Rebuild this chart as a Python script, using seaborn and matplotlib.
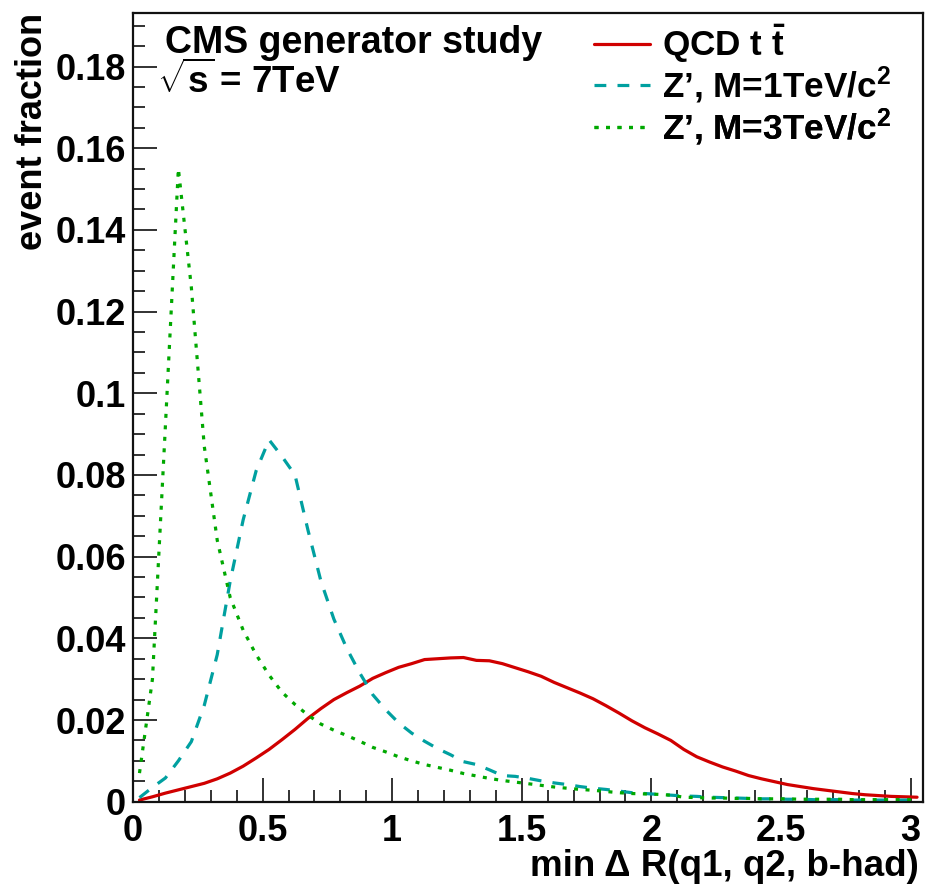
import numpy as np
import pandas as pd
import matplotlib
matplotlib.use("Agg")
import matplotlib.pyplot as plt
import seaborn as sns
from matplotlib.ticker import MultipleLocator

# ---------------- data ----------------
bin_centers = [0.025 + 0.05 * i for i in range(61)]

qcd_tt = [0.0004, 0.0012, 0.0021, 0.0029, 0.0037, 0.0045, 0.0056, 0.0070, 0.0087, 0.0107,
          0.0128, 0.0152, 0.0177, 0.0204, 0.0228, 0.0250, 0.0267, 0.0283, 0.0302, 0.0316,
          0.0329, 0.0338, 0.0348, 0.0350, 0.0352, 0.0353, 0.0346, 0.0345, 0.0338, 0.0328,
          0.0318, 0.0307, 0.0292, 0.0279, 0.0266, 0.0252, 0.0235, 0.0217, 0.0198, 0.0181,
          0.0166, 0.0150, 0.0128, 0.0110, 0.0097, 0.0085, 0.0075, 0.0064, 0.0056, 0.0049,
          0.0042, 0.0037, 0.0032, 0.0028, 0.0024, 0.0020, 0.0017, 0.0015, 0.0013, 0.0012,
          0.0011]

zprime_1tev = [0.0010, 0.0035, 0.0058, 0.0100, 0.0147, 0.0236, 0.0360, 0.0540, 0.0690, 0.0810,
               0.0886, 0.0845, 0.0800, 0.0665, 0.0540, 0.0447, 0.0375, 0.0315, 0.0262, 0.0225,
               0.0193, 0.0168, 0.0148, 0.0130, 0.0115, 0.0098, 0.0091, 0.0078, 0.0064, 0.0062,
               0.0057, 0.0051, 0.0046, 0.0042, 0.0037, 0.0033, 0.0030, 0.0026, 0.0022, 0.0020,
               0.0018, 0.0016, 0.0014, 0.0013, 0.0011, 0.0010, 0.0009, 0.0008, 0.0007, 0.0007,
               0.0006, 0.0006, 0.0005, 0.0005, 0.0005, 0.0004, 0.0004, 0.0004, 0.0004, 0.0004,
               0.0004]

zprime_3tev = [0.0070, 0.0300, 0.0920, 0.1550, 0.1260, 0.0870, 0.0640, 0.0500, 0.0420, 0.0360,
               0.0310, 0.0268, 0.0238, 0.0212, 0.0190, 0.0175, 0.0162, 0.0148, 0.0133, 0.0122,
               0.0110, 0.0100, 0.0091, 0.0084, 0.0077, 0.0069, 0.0063, 0.0057, 0.0052, 0.0048,
               0.0044, 0.0040, 0.0036, 0.0033, 0.0030, 0.0028, 0.0025, 0.0022, 0.0020, 0.0019,
               0.0018, 0.0016, 0.0011, 0.0010, 0.0009, 0.0009, 0.0008, 0.0008, 0.0007, 0.0007,
               0.0007, 0.0006, 0.0006, 0.0006, 0.0006, 0.0005, 0.0005, 0.0005, 0.0005, 0.0005,
               0.0005]

series_labels = ["QCD t $\\bar{\\mathregular{t}}$",
                 "Z’, M=1TeV/c$^{\\mathregular{2}}$",
                 "Z’, M=3TeV/c$^{\\mathregular{2}}$"]
x_ticks = [0, 0.5, 1, 1.5, 2, 2.5, 3]
x_tick_labels = ["0", "0.5", "1", "1.5", "2", "2.5", "3"]
y_ticks = [0, 0.02, 0.04, 0.06, 0.08, 0.1, 0.12, 0.14, 0.16, 0.18]
y_tick_labels = ["0", "0.02", "0.04", "0.06", "0.08", "0.1", "0.12", "0.14", "0.16", "0.18"]

# ---------------- style ----------------
sns.set_style("ticks")
plt.rcParams["font.family"] = ["Liberation Sans", "DejaVu Sans"]
plt.rcParams["font.weight"] = "bold"
plt.rcParams["text.color"] = "black"
plt.rcParams["axes.labelcolor"] = "black"
plt.rcParams["xtick.color"] = "black"
plt.rcParams["ytick.color"] = "black"
plt.rcParams["mathtext.fontset"] = "custom"
plt.rcParams["mathtext.rm"] = "Liberation Sans:bold"
plt.rcParams["mathtext.it"] = "Liberation Sans:bold"
plt.rcParams["mathtext.bf"] = "Liberation Sans:bold"

FS_TICK = 26
FS_TEXT = 27
FS_LEG = 25.3
W, H = 927, 885
fig = plt.figure(figsize=(W / 100, H / 100), dpi=100)
AX_L, AX_R, AX_T, AX_B = 133, 922.5, 13, 801.7
ax = fig.add_axes([AX_L / W, 1 - AX_B / H, (AX_R - AX_L) / W, (AX_B - AX_T) / H])

df = pd.DataFrame({"x": bin_centers, "qcd": qcd_tt, "z1": zprime_1tev, "z3": zprime_3tev})

c_red = "#d00000"
c_teal = "#00a0a0"
c_green = "#00a800"
lw = 2.3

sns.lineplot(data=df, x="x", y="qcd", ax=ax, color=c_red, lw=lw)
sns.lineplot(data=df, x="x", y="z1", ax=ax, color=c_teal, lw=lw)
sns.lineplot(data=df, x="x", y="z3", ax=ax, color=c_green, lw=lw)
lines = ax.get_lines()
lines[1].set_dashes([3.7, 3.5])
lines[2].set_dashes([1.25, 2.35])

ax.set_xlim(0, 3.046)
ax.set_ylim(0, 0.1931)

ax.set_xticks(x_ticks)
ax.set_xticklabels(x_tick_labels)
ax.set_yticks(y_ticks)
ax.set_yticklabels(y_tick_labels)
ax.xaxis.set_minor_locator(MultipleLocator(0.1))
ax.yaxis.set_minor_locator(MultipleLocator(0.005))
ax.tick_params(axis="both", which="major", direction="in", length=17, width=1.3,
               labelsize=FS_TICK, color="#222222")
ax.tick_params(axis="both", which="minor", direction="in", length=8.5, width=1.3,
               color="#222222")
ax.tick_params(axis="y", which="major", pad=5)
ax.tick_params(axis="x", which="major", pad=9)
for lab in ax.get_xticklabels() + ax.get_yticklabels():
    lab.set_fontweight("bold")
for s in ax.spines.values():
    s.set_linewidth(1.6)
    s.set_color("#111111")

ax.set_xlabel("min Δ R(q1, q2, b-had)", fontsize=26.5, fontweight="bold")
ax.xaxis.set_label_coords(1 - (AX_R - 919) / (AX_R - AX_L), -(867 - AX_B) / (AX_B - AX_T))
ax.xaxis.label.set_horizontalalignment("right")
ax.xaxis.label.set_verticalalignment("center")
ax.set_ylabel("event fraction", fontsize=FS_TICK, fontweight="bold")
ax.yaxis.label.set_rotation_mode("anchor")
ax.yaxis.set_label_coords(-(AX_L - 33) / (AX_R - AX_L), 1.0)
ax.yaxis.label.set_horizontalalignment("right")
ax.yaxis.label.set_verticalalignment("center")

ax.text(165 / W, 1 - 53 / H, "CMS generator study", transform=fig.transFigure,
        fontsize=FS_TEXT, fontweight="bold", ha="left", va="baseline")
ax.text(157 / W, 1 - 93 / H, "$\\sqrt{\\mathregular{s}}$\u2009= 7TeV", transform=fig.transFigure,
        fontsize=26.5, fontweight="bold", ha="left", va="baseline")

# legend: one row per entry, placed to match the reference rows
row_y = [44, 85, 127]
for line, lab, yy in zip(lines, series_labels, row_y):
    leg = ax.legend(handles=[line], labels=[lab], loc="center left",
                    bbox_to_anchor=(594 / W, 1 - yy / H), bbox_transform=fig.transFigure,
                    frameon=False, fontsize=FS_LEG, handlelength=1.6, handletextpad=0.34,
                    borderaxespad=0.0, borderpad=0.0)
    for t in leg.get_texts():
        t.set_fontweight("bold")
    ax.add_artist(leg)

fig.savefig("out.png", dpi=100)
